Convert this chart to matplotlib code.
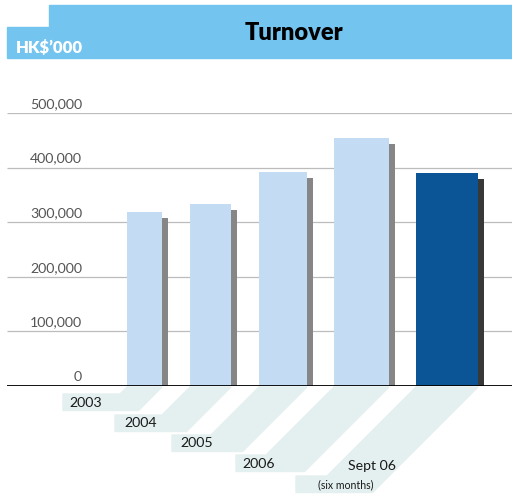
import matplotlib
matplotlib.use("Agg")
import matplotlib.pyplot as plt
from matplotlib.patches import Polygon, Rectangle
import matplotlib.transforms as mtransforms

plt.rcParams["font.family"] = ["Lato", "DejaVu Sans"]

# ---- data ----
categories = ["2003", "2004", "2005", "2006", "Sept 06"]
sub_labels = ["", "", "", "", "(six months)"]
turnover = [319000, 334000, 392000, 455000, 391000]
yticks = [0, 100000, 200000, 300000, 400000, 500000]
ytick_labels = ["0", "100,000", "200,000", "300,000", "400,000", "500,000"]
title = "Turnover"
unit = "HK$\u2019000"

# ---- layout (pixels, top-down) ----
W, H = 512, 496
bar_left = [127, 190, 259, 334, 416]
bar_right = [162, 231, 307, 389, 478]
box_top = [394, 415, 435, 455, 476]
box_left = [63, 115, 172, 236, 296]
text_x = [69, 124, 180, 242, 348]
text_y = [403, 423, 443, 464, 466]

light = "#c3dcf3"
light_sh = "#868686"
dark = "#0b5596"
dark_sh = "#383838"
band = "#e4f0ef"

fig = plt.figure(figsize=(W / 100, H / 100), dpi=100)

# pixel transform for decorations (top-down)
px = mtransforms.Affine2D().scale(1, -1).translate(0, H) + mtransforms.Affine2D().scale(1 / W, 1 / H) + fig.transFigure

# header
fig.patches.append(Rectangle((49, 5), W - 49, 53, transform=px, color="#74c4f0", zorder=0))
fig.patches.append(Rectangle((7, 27), 42, 31, transform=px, color="#74c4f0", zorder=0))

y0, ytop = 386, 113
ax = fig.add_axes([0, (H - y0) / H, 1, (y0 - ytop) / H])
ax.set_xlim(0, W)
ax.set_ylim(0, 500000)
ax.axis("off")

# gridlines
for v in yticks[1:]:
    ax.plot([7, W], [v, v], color="#bcbcbc", lw=0.9, zorder=1, solid_capstyle="butt")
ax.plot([7, W], [0, 0], color="black", lw=1.3, zorder=5, solid_capstyle="butt")

# tick labels
for v, lab in zip(yticks, ytick_labels):
    ax.annotate(lab, (82, v), xytext=(0, 9), textcoords="offset pixels",
                ha="right", va="center", fontsize=10.2, color="#555555",
                annotation_clip=False)

# bars
shadow_drop = 11500
n = len(categories)
centers = [(l + r) / 2 for l, r in zip(bar_left, bar_right)]
widths = [r - l for l, r in zip(bar_left, bar_right)]
for i in range(n):
    last = i == n - 1
    ax.bar(centers[i] + 6, turnover[i] - shadow_drop, width=widths[i],
           color=dark_sh if last else light_sh, zorder=2, linewidth=0)
    ax.bar(centers[i], turnover[i], width=widths[i],
           color=dark if last else light, zorder=3, linewidth=0)

# label bands
top = 387
for i in range(n):
    L, R = bar_left[i], bar_right[i]
    yt = box_top[i]
    yb = yt + 16.5
    pts = [(box_left[i], yt), (L - (yt - top), yt), (L, top), (R, top),
           (R - (yb - top), yb), (box_left[i], yb)]
    fig.patches.append(Polygon(pts, closed=True, transform=px, color=band, zorder=0))
    fig.text(text_x[i] / W, 1 - text_y[i] / H, categories[i], ha="left", va="center",
             fontsize=10.2, color="#1a1a1a")
    if sub_labels[i]:
        fig.text(318 / W, 1 - 485 / H, sub_labels[i], ha="left", va="center",
                 fontsize=7.6, color="#1a1a1a")

fig.text(294 / W, 1 - 33 / H, title, ha="center", va="center", fontsize=17,
         fontweight="heavy", color="black")
fig.text(16 / W, 1 - 48 / H, unit, ha="left", va="center", fontsize=12,
         fontweight="heavy", color="white")

fig.savefig("out.png", dpi=100)
